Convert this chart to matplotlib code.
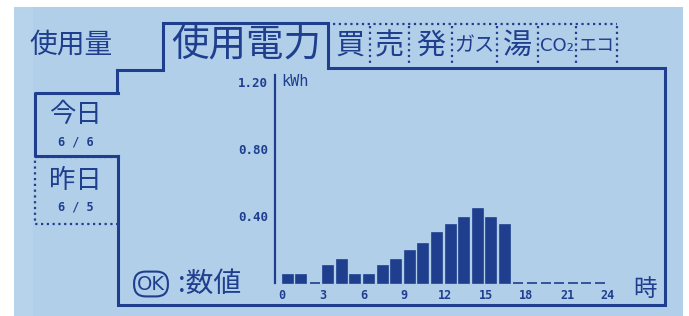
import matplotlib
matplotlib.use("Agg")
import matplotlib.pyplot as plt
from matplotlib.patches import Rectangle
import numpy as np

# ---- data ----
hours = list(range(24))
usage_kwh = [0.05, 0.05, 0.00, 0.10, 0.14, 0.05, 0.05, 0.10, 0.14, 0.19,
             0.235, 0.30, 0.345, 0.39, 0.44, 0.39, 0.345,
             0.0, 0.0, 0.0, 0.0, 0.0, 0.0, 0.0]
x_ticks = [0, 3, 6, 9, 12, 15, 18, 21, 24]
y_ticks = [0.40, 0.80, 1.20]
y_tick_labels = ["0.40", "0.80", "1.20"]
tabs = ["買", "売", "発", "ガス", "湯", "CO₂", "エコ"]

INK = "#1f3f8e"
LCD = "#b2cfe9"
JP = ["Noto Sans CJK JP", "DejaVu Sans"]
MONO = ["DejaVu Sans Mono"]

W, H = 689, 316
fig = plt.figure(figsize=(W / 100, H / 100), dpi=100, facecolor="white")

ov = fig.add_axes([0, 0, 1, 1])
ov.set_xlim(0, W)
ov.set_ylim(H, 0)
ov.axis("off")

# LCD panel
ov.add_patch(Rectangle((14, 7), 669, 309, facecolor=LCD, edgecolor="none", zorder=0))
ov.add_patch(Rectangle((14, 7), 19, 309, facecolor="#b7d3ec", edgecolor="none", zorder=0))

lw = 2.2
# main frame
fx = [117, 117, 163, 163, 328, 328, 665, 665, 118, 118]
fy = [93, 70, 70, 23, 23, 68, 68, 305, 305, 156]
ov.plot(fx, fy, color=INK, lw=lw, solid_joinstyle="miter", zorder=2)
# 今日 box (selected)
ov.plot([118, 35, 35, 118], [93, 93, 156, 156], color=INK, lw=lw, zorder=2)
# 昨日 box (dotted)
ov.plot([118, 35, 35, 118], [157, 157, 224, 224], color=INK, lw=1.6,
        linestyle=(0, (1, 1.6)), zorder=2)

# dotted tabs
bounds = [330, 370, 409, 452, 497, 538, 576, 617]
ov.plot([333, 617], [24, 24], color=INK, lw=1.6, linestyle=(0, (1, 1.6)), zorder=2)
for b in bounds[1:]:
    ov.plot([b, b], [26, 66], color=INK, lw=1.6, linestyle=(0, (1, 1.6)), zorder=2)
tab_sizes = [21, 21, 21, 14.5, 21, 13, 13]
for i, t in enumerate(tabs):
    cx = (bounds[i] + bounds[i + 1]) / 2
    fam = JP if i != 5 else ["DejaVu Sans"]
    ov.text(cx, 46, t, ha="center", va="center", fontsize=tab_sizes[i],
            family=fam, color=INK, fontweight="normal", zorder=3)

ov.text(71, 45, "使用量", ha="center", va="center", fontsize=20, family=JP,
        color=INK, fontweight="normal")
ov.text(246, 46, "使用電力", ha="center", va="center", fontsize=27, family=JP,
        color=INK, fontweight="normal")

ov.text(75, 115, "今日", ha="center", va="center", fontsize=19, family=JP,
        color=INK, fontweight="normal")
ov.text(76, 142, "6 / 6", ha="center", va="center", fontsize=8.5, family=MONO,
        color=INK, fontweight="bold")
ov.text(75, 180, "昨日", ha="center", va="center", fontsize=19, family=JP,
        color=INK, fontweight="normal")
ov.text(76, 207, "6 / 5", ha="center", va="center", fontsize=8.5, family=MONO,
        color=INK, fontweight="bold")

ov.text(151, 284, "OK", ha="center", va="center", fontsize=14, family=["DejaVu Sans"],
        color=INK, fontweight="normal",
        bbox=dict(boxstyle="round,pad=0.15,rounding_size=0.6", facecolor="none",
                  edgecolor=INK, lw=1.5))
ov.text(178, 284, ":数値", ha="left", va="center", fontsize=20, family=JP,
        color=INK, fontweight="normal")

ov.text(281, 82, "kWh", ha="left", va="center", fontsize=11, family=MONO, color=INK)
ov.text(645, 289, "時", ha="center", va="center", fontsize=17, family=JP,
        color=INK, fontweight="normal")

# ---- chart axes ----
px_per_hr = 13.58
x0_px = 282
left_px, right_px = 275, 660
top_px, base_px = 75, 283
px_per_unit = 67 / 0.4
ax = fig.add_axes([left_px / W, (H - base_px) / H, (right_px - left_px) / W,
                   (base_px - top_px) / H])
ax.set_facecolor("none")
ax.set_xlim((left_px - x0_px) / px_per_hr, (right_px - x0_px) / px_per_hr)
ax.set_ylim(0, (base_px - top_px) / px_per_unit)
bars = ax.bar(np.array(hours) + 0.04, usage_kwh, width=0.74, align="edge",
              color=INK, edgecolor=INK, linewidth=1.2)
for b in bars:
    b.set_clip_on(False)
for s in ["top", "right", "bottom"]:
    ax.spines[s].set_visible(False)
ax.spines["left"].set_color(INK)
ax.spines["left"].set_linewidth(1.6)
ax.set_yticks(y_ticks)
ax.set_yticklabels(y_tick_labels, family=MONO, fontweight="bold", fontsize=9, color=INK)
ax.set_xticks(x_ticks)
ax.set_xticklabels([str(v) for v in x_ticks], family=MONO, fontweight="bold",
                   fontsize=8.5, color=INK)
ax.tick_params(axis="both", length=0)
ax.tick_params(axis="y", pad=5)
ax.tick_params(axis="x", pad=4)

fig.savefig("out.png", dpi=100, facecolor="white")
